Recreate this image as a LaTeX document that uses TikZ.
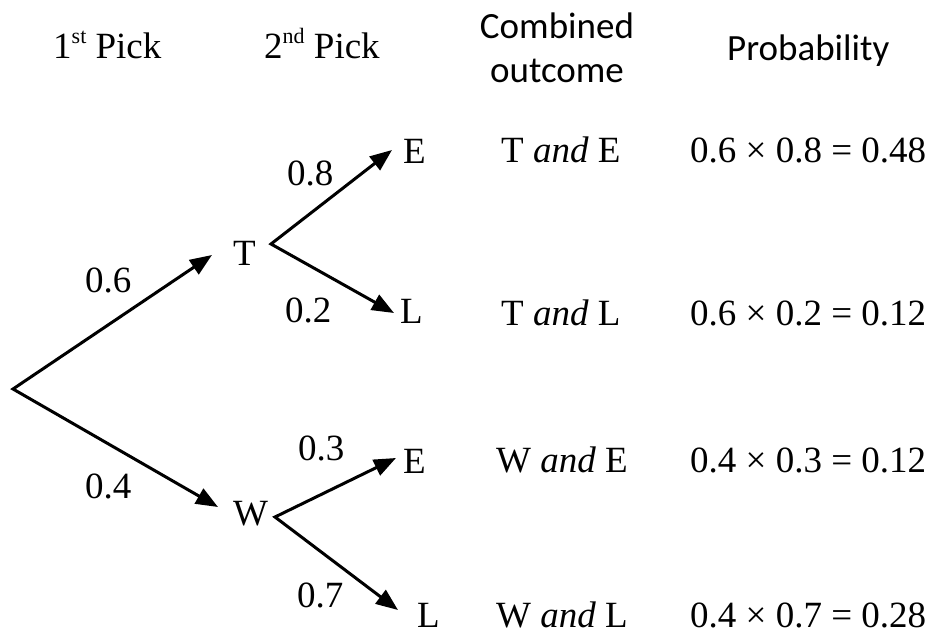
\documentclass[tikz,border=0pt]{standalone}
\usepackage{fontspec}
\setmainfont{Liberation Serif}
\newfontfamily\hdfont{Carlito}
\usetikzlibrary{arrows.meta}
\newcommand\supx[1]{\raisebox{15pt}{\fontsize{22}{22}\selectfont #1}}
\begin{document}
\begin{tikzpicture}[x=1pt,y=-1pt,
  lbl/.style={anchor=base west, inner sep=0pt, font=\fontsize{37}{44}\selectfont},
  hd/.style={inner sep=0pt, font=\hdfont\fontsize{37}{44}\selectfont},
  arr/.style={line width=3pt, {Triangle[length=22pt,width=17pt]}-{Triangle[length=22pt,width=17pt]}, line join=miter}]
\useasboundingbox (0,0) rectangle (928,632);
% headers
\node[lbl] (h1) at (53,58) {1\supx{st} Pick};
\node[lbl] (h2) at (264,58) {2\supx{nd} Pick};
\node[hd, align=center, anchor=base] (h3) at (557,82) {Combined\\outcome};
\node[hd, anchor=base west] (h4) at (727,60) {Probability};
% tree labels
\node[lbl] (T) at (233,265) {T};
\node[lbl] (W) at (233,525) {W};
\node[lbl] (E1) at (403,163) {E};
\node[lbl] (L1) at (400,323) {L};
\node[lbl] (E2) at (403,473) {E};
\node[lbl] (L2) at (417,627) {L};
% branch coordinates
\coordinate (r) at (13,389);
\coordinate (tin) at (212,255);
\coordinate (win) at (218,507);
\coordinate (tout) at (271,244);
\coordinate (e1tip) at (392,150);
\coordinate (l1tip) at (394,313);
\coordinate (wout) at (275,517);
\coordinate (e2tip) at (396,458);
\coordinate (l2tip) at (398,610);
\draw[arr] (tin) -- (r) -- (win);
\draw[arr] (e1tip) -- (tout) -- (l1tip);
\draw[arr] (e2tip) -- (wout) -- (l2tip);
% probabilities on branches
\node[lbl] (p06) at (85,292) {0.6};
\node[lbl] (p04) at (85,498) {0.4};
\node[lbl] (p08) at (287,185) {0.8};
\node[lbl] (p02) at (285,322) {0.2};
\node[lbl] (p03) at (298,460) {0.3};
\node[lbl] (p07) at (297,607) {0.7};
% outcomes
\node[lbl] (o1) at (501,162) {T \textit{and} E};
\node[lbl] (o2) at (501,325) {T \textit{and} L};
\node[lbl] (o3) at (496,472) {W \textit{and} E};
\node[lbl] (o4) at (496,627) {W \textit{and} L};
\node[lbl] (q1) at (690,162) {0.6 × 0.8 = 0.48};
\node[lbl] (q2) at (690,325) {0.6 × 0.2 = 0.12};
\node[lbl] (q3) at (690,472) {0.4 × 0.3 = 0.12};
\node[lbl] (q4) at (690,627) {0.4 × 0.7 = 0.28};
\end{tikzpicture}
\end{document}
